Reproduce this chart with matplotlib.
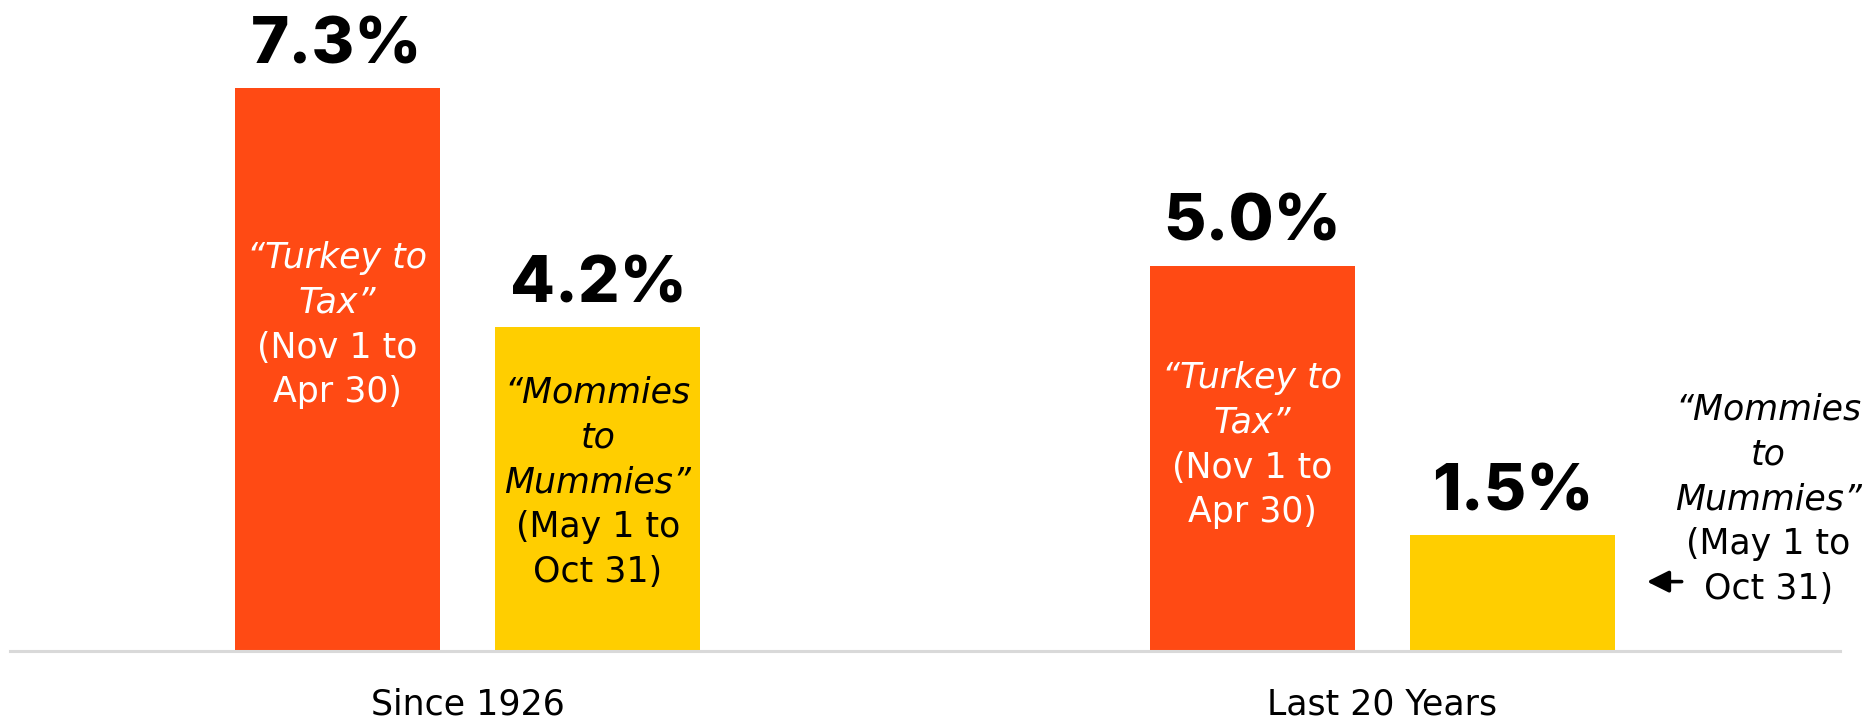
import matplotlib
matplotlib.use("Agg")
import matplotlib.pyplot as plt

# ---- data ----
categories = ["Since 1926", "Last 20 Years"]
turkey_vals = [7.3, 5.0]
mommies_vals = [4.2, 1.5]
value_labels_turkey = ["7.3%", "5.0%"]
value_labels_mommies = ["4.2%", "1.5%"]
turkey_name = ["\u201cTurkey to", "Tax\u201d"]
turkey_dates = ["(Nov 1 to", "Apr 30)"]
mommies_name = ["\u201cMommies", "to", "Mummies\u201d"]
mommies_dates = ["(May 1 to", "Oct 31)"]

ORANGE = "#FF4A14"
YELLOW = "#FFCE00"
FONT = "DejaVu Sans"
BOLD_FONT = "Inter"

fig = plt.figure(figsize=(18.66, 7.18), dpi=100)
ax = fig.add_axes([10 / 1866, 67 / 718, 1830 / 1866, 616.8 / 718])
ax.set_xlim(-0.5, 1.5)
ax.set_ylim(0, 8.0)
for s in ["top", "right", "left"]:
    ax.spines[s].set_visible(False)
ax.spines["bottom"].set_color("#d9d9d9")
ax.spines["bottom"].set_linewidth(2.2)
ax.set_yticks([])

w = 0.224
off = 0.1426
xs = list(range(len(categories)))
xt = [x - off for x in xs]
xm = [x + off for x in xs]
ax.bar(xt, turkey_vals, width=w, color=ORANGE, zorder=2)
ax.bar(xm, mommies_vals, width=w, color=YELLOW, zorder=2)

ax.set_xticks(xs)
ax.set_xticklabels(categories, fontsize=25, family=FONT)
ax.tick_params(axis="x", length=0, pad=26)

# value labels
for x, v, lab in zip(xt + xm, turkey_vals + mommies_vals,
                     value_labels_turkey + value_labels_mommies):
    ax.annotate(lab, xy=(x, v), xytext=(0, 25), textcoords="offset pixels",
                ha="center", va="baseline", fontsize=47, fontweight="heavy",
                family=BOLD_FONT, color="black", annotation_clip=False)

LS = 44.8  # line spacing in pixels
FS = 25


def draw_lines(x, y0, lines, color):
    for i, (t, style) in enumerate(lines):
        ax.annotate(t, xy=(x, y0), xytext=(0, -i * LS), textcoords="offset pixels",
                    ha="center", va="baseline", fontsize=FS, style=style,
                    family=FONT, color=color, annotation_clip=False)


t_lines = [(t, "italic") for t in turkey_name] + [(t, "normal") for t in turkey_dates]
m_lines = [(t, "italic") for t in mommies_name] + [(t, "normal") for t in mommies_dates]

draw_lines(xt[0], 4.967, t_lines, "white")
draw_lines(xt[1], 3.41, t_lines, "white")
draw_lines(xm[0], 3.217, m_lines, "black")
draw_lines(1.422, 3.0, m_lines, "black")

ax.annotate("", xy=(1.286, 0.90), xytext=(1.330, 0.90),
            arrowprops=dict(arrowstyle="-|>,head_length=0.6,head_width=0.3",
                            color="black", lw=2.6, mutation_scale=22),
            annotation_clip=False)

fig.savefig("out.png", dpi=100)
